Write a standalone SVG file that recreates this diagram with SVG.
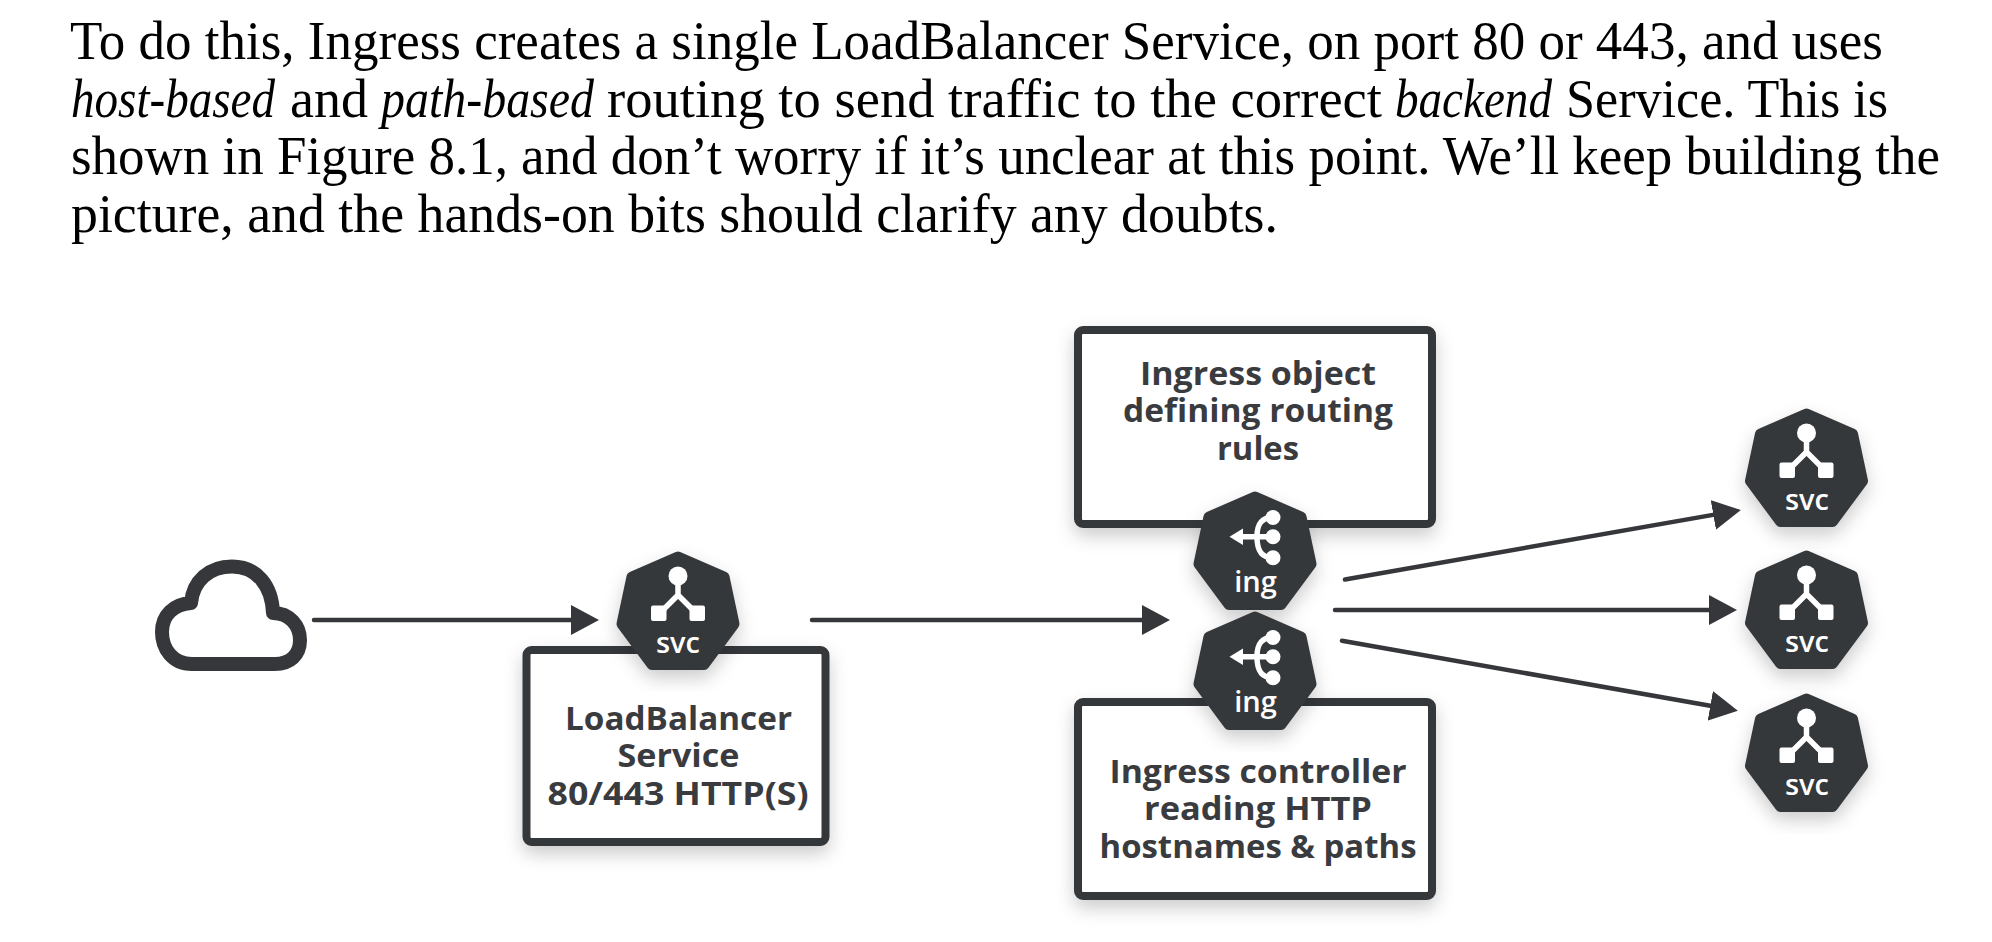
<svg xmlns="http://www.w3.org/2000/svg" width="1992" height="942" viewBox="0 0 1992 942">
<style>
.b{font-family:"Liberation Serif",serif;font-size:54px;fill:#000;}
.i{font-style:italic;}
.l{font-family:"Open Sans","Noto Sans",sans-serif;font-size:33px;font-weight:700;fill:#3a3b3f;text-anchor:middle;}
.t{font-family:"Open Sans","Noto Sans",sans-serif;font-size:29px;font-weight:600;fill:#fff;text-anchor:middle;}
.box{fill:#fff;stroke:#36373b;stroke-width:8;filter:url(#sh);}
.hex{fill:#36373b;stroke:#36373b;stroke-width:11;stroke-linejoin:round;}
.ic{fill:none;stroke:#fff;stroke-width:5.5;}
.w{fill:#fff;}
.c{stroke:#36373b;stroke-width:4.5;stroke-linecap:round;fill:none;marker-end:url(#ah);}
</style>
<defs>
<filter id="sh" x="-25%" y="-25%" width="150%" height="150%"><feDropShadow dx="0" dy="8" stdDeviation="9" flood-color="#000" flood-opacity="0.2"/></filter>
<marker id="ah" markerUnits="userSpaceOnUse" markerWidth="28" markerHeight="30" viewBox="0 0 28 30" refX="20" refY="15" orient="auto"><path d="M0 0L28 15L0 30Z" fill="#36373b"/></marker>
<g id="hexa"><polygon class="hex" points="0,6 46,26 56,73 26,113.5 -26,113.5 -56,73 -46,26"/></g>
<g id="svci"><use href="#hexa"/><circle class="w" cx="0" cy="25" r="9.5"/><path class="ic" d="M0 25V44L-19 63M0 44L19 63"/><rect class="w" x="-27" y="54.5" width="15.5" height="15.5" rx="2"/><rect class="w" x="11.5" y="54.5" width="15.5" height="15.5" rx="2"/></g>
<g id="ingi"><use href="#hexa"/><circle class="w" cx="18" cy="26.5" r="7.5"/><circle class="w" cx="18" cy="45.7" r="7.5"/><circle class="w" cx="18" cy="66.8" r="7.5"/><path class="ic" d="M-18 45.7H18M18 26.5C4 26.5 2 36 2 45.7C2 56 4 66.8 18 66.8"/><path class="w" d="M-25.5 45.7L-12 37.5V54Z"/></g>
</defs>
<rect width="1992" height="942" fill="#fff"/>
<g id="body-text">
<text class="b" x="70" y="59" textLength="1813" lengthAdjust="spacingAndGlyphs">To do this, Ingress creates a single LoadBalancer Service, on port 80 or 443, and uses</text>
<text class="b" y="117"><tspan class="i" x="71" textLength="204" lengthAdjust="spacingAndGlyphs">host-based</tspan><tspan x="290" textLength="78" lengthAdjust="spacingAndGlyphs">and</tspan><tspan class="i" x="381" textLength="213" lengthAdjust="spacingAndGlyphs">path-based</tspan><tspan x="607" textLength="775" lengthAdjust="spacingAndGlyphs">routing to send traffic to the correct</tspan><tspan class="i" x="1395" textLength="157" lengthAdjust="spacingAndGlyphs">backend</tspan><tspan x="1566" textLength="322" lengthAdjust="spacingAndGlyphs">Service. This is</tspan></text>
<text class="b" x="71" y="174" textLength="1869" lengthAdjust="spacingAndGlyphs">shown in Figure 8.1, and don’t worry if it’s unclear at this point. We’ll keep building the</text>
<text class="b" x="71" y="232" textLength="1207" lengthAdjust="spacingAndGlyphs">picture, and the hands-on bits should clarify any doubts.</text>
</g>
<g id="connectors">
<line class="c" x1="314" y1="620" x2="591" y2="620"/>
<line class="c" x1="812" y1="620" x2="1162" y2="620"/>
<line class="c" x1="1345" y1="579.5" x2="1733" y2="511.4"/>
<line class="c" x1="1335" y1="610" x2="1729" y2="610"/>
<line class="c" x1="1342" y1="640.7" x2="1730" y2="709.3"/>
</g>
<g id="cloud"><path d="M192 664C172 664 162 648 162 632C162 615 174 604 191 603C193 581 209 566.5 232 566.5C257 566.5 272 586 273 613C290 613 300 626 300 640C300 655 290 664 275 664Z" fill="none" stroke="#36373b" stroke-width="14" stroke-linejoin="round"/></g>
<g id="loadbalancer">
<rect class="box" x="526.5" y="650" width="299" height="192" rx="5"/>
<g filter="url(#sh)"><use href="#svci" x="678" y="551"/></g>
<text class="t" x="678" y="653">svc</text>
<text class="l" x="678.5" y="730" textLength="227" lengthAdjust="spacingAndGlyphs">LoadBalancer</text>
<text class="l" x="678.5" y="767" textLength="122" lengthAdjust="spacingAndGlyphs">Service</text>
<text class="l" x="678" y="805" textLength="261" lengthAdjust="spacingAndGlyphs">80/443 HTTP(S)</text>
</g>
<g id="ingress-object">
<rect class="box" x="1078" y="330" width="354" height="194" rx="5"/>
<g filter="url(#sh)"><use href="#ingi" x="1255" y="491"/></g>
<text class="t" x="1255.5" y="592">ing</text>
<text class="l" x="1258" y="385" textLength="236" lengthAdjust="spacingAndGlyphs">Ingress object</text>
<text class="l" x="1258" y="422" textLength="270" lengthAdjust="spacingAndGlyphs">defining routing</text>
<text class="l" x="1258" y="460" textLength="82" lengthAdjust="spacingAndGlyphs">rules</text>
</g>
<g id="ingress-controller">
<rect class="box" x="1078" y="702" width="354" height="194" rx="5"/>
<g filter="url(#sh)"><use href="#ingi" x="1255" y="611"/></g>
<text class="t" x="1255.5" y="712">ing</text>
<text class="l" x="1258" y="783" textLength="297" lengthAdjust="spacingAndGlyphs">Ingress controller</text>
<text class="l" x="1258" y="820" textLength="228" lengthAdjust="spacingAndGlyphs">reading HTTP</text>
<text class="l" x="1258" y="858" textLength="317" lengthAdjust="spacingAndGlyphs">hostnames &amp; paths</text>
</g>
<g id="svc-1"><g filter="url(#sh)"><use href="#svci" x="1806.5" y="408"/></g><text class="t" x="1807" y="510">svc</text></g>
<g id="svc-2"><g filter="url(#sh)"><use href="#svci" x="1806.5" y="550"/></g><text class="t" x="1807" y="652">svc</text></g>
<g id="svc-3"><g filter="url(#sh)"><use href="#svci" x="1806.5" y="693"/></g><text class="t" x="1807" y="795">svc</text></g>
</svg>
